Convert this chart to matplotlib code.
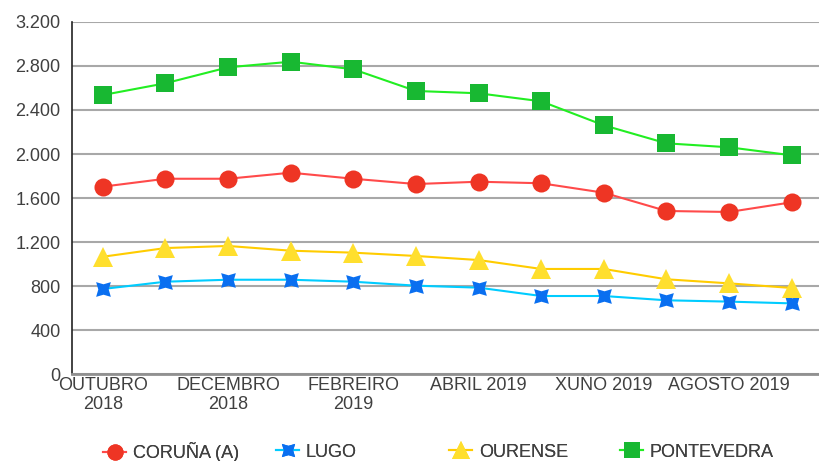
import matplotlib.pyplot as plt
from matplotlib.ticker import FuncFormatter

# monthly values per province, Oct 2018 - Sep 2019
months = ["OUTUBRO\n2018", "", "DECEMBRO\n2018", "", "FEBREIRO\n2019", "",
          "ABRIL 2019", "", "XUÑO 2019", "", "AGOSTO 2019", ""]
coruna = [1703, 1775, 1775, 1830, 1775, 1727, 1748, 1734, 1648, 1482, 1473, 1561]
lugo = [773, 839, 857, 857, 839, 803, 785, 709, 709, 670, 658, 642]
ourense = [1066, 1145, 1164, 1121, 1103, 1073, 1036, 955, 955, 861, 824, 782]
pontevedra = [2536, 2643, 2788, 2839, 2770, 2573, 2552, 2479, 2261, 2097, 2061, 1988]

plt.rcParams["font.family"] = ["Liberation Sans", "DejaVu Sans"]

fig = plt.figure(figsize=(8.19, 4.61), dpi=100)
ax = fig.add_axes([71.5 / 819, 1 - 374 / 461, (823 - 71.5) / 819, (374 - 22) / 461])

x = list(range(len(months)))
series = [
    ("CORUÑA (A)", coruna, "#ff4a4a", "#ee3524", "o", 13),
    ("LUGO", lugo, "#00ccff", "#0a6ff0", (4, 1, 45), 15),
    ("OURENSE", ourense, "#ffcc00", "#ffdf2e", "^", 14),
    ("PONTEVEDRA", pontevedra, "#22ee22", "#18b832", "s", 13),
]
handles = []
for name, vals, lc, mc, mk, ms in series:
    h, = ax.plot(x, vals, color=lc, lw=1.5, marker=mk, markersize=ms,
                 markerfacecolor=mc, markeredgecolor=mc, markeredgewidth=0, label=name)
    handles.append(h)

ax.set_xlim(-0.5, 11.5)
ax.set_ylim(0, 3200)
ax.set_yticks(range(0, 3201, 400))
ax.yaxis.set_major_formatter(FuncFormatter(lambda v, p: f"{int(v):,}".replace(",", ".")))
ax.set_xticks(x)
ax.set_xticklabels(months)
ax.tick_params(axis="both", length=0, labelsize=13, colors="#404040")
ax.tick_params(axis="x", pad=2)
ax.tick_params(axis="y", pad=8)
ax.grid(axis="y", color="#a8a8a8", lw=1.5)
ax.set_axisbelow(True)
for s in ["top", "right"]:
    ax.spines[s].set_visible(False)
ax.spines["left"].set_color("#222222")
ax.spines["left"].set_linewidth(1.2)
ax.spines["bottom"].set_color("#909090")
ax.spines["bottom"].set_linewidth(2)

# one legend entry per province, spaced like the original
leg_x = [103, 276, 449, 620]
for h, lx in zip(handles, leg_x):
    lg = fig.legend([h], [h.get_label()], loc="center left",
                    bbox_to_anchor=(lx / 819, 1 - 452 / 461), frameon=False,
                    fontsize=13, handlelength=1.3, handletextpad=0.35,
                    borderpad=0, borderaxespad=0, labelcolor="#404040",
                    markerscale=0.9)
    fig.add_artist(lg)

fig.savefig("out.png", dpi=100)
